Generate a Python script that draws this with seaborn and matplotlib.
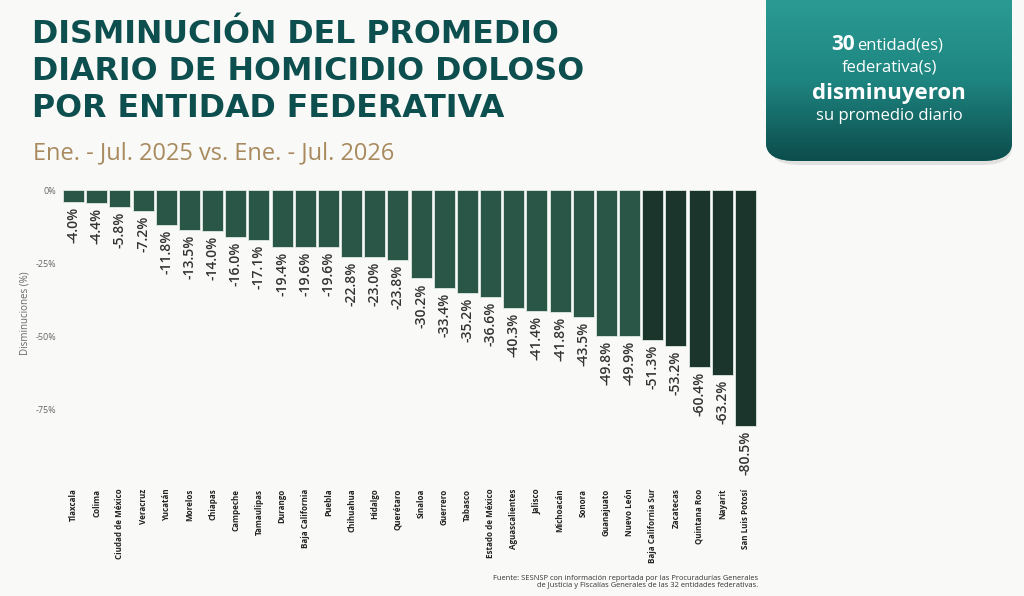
import numpy as np
import pandas as pd
import matplotlib
matplotlib.use('Agg')
import matplotlib.pyplot as plt
import seaborn as sns
from matplotlib.patches import FancyBboxPatch

estados = ['Tlaxcala', 'Colima', 'Ciudad de México', 'Veracruz', 'Yucatán', 'Morelos',
           'Chiapas', 'Campeche', 'Tamaulipas', 'Durango', 'Baja California', 'Puebla',
           'Chihuahua', 'Hidalgo', 'Querétaro', 'Sinaloa', 'Guerrero', 'Tabasco',
           'Estado de México', 'Aguascalientes', 'Jalisco', 'Michoacán', 'Sonora',
           'Guanajuato', 'Nuevo León', 'Baja California Sur', 'Zacatecas',
           'Quintana Roo', 'Nayarit', 'San Luis Potosí']
disminucion = [-4.0, -4.4, -5.8, -7.2, -11.8, -13.5, -14.0, -16.0, -17.1, -19.4, -19.6,
               -19.6, -22.8, -23.0, -23.8, -30.2, -33.4, -35.2, -36.6, -40.3, -41.4,
               -41.8, -43.5, -49.8, -49.9, -51.3, -53.2, -60.4, -63.2, -80.5]
grupo = ['normal'] * 25 + ['mayor'] * 5
yticks = [0, -25, -50, -75]
ytick_labels = ['0%', '-25%', '-50%', '-75%']

df = pd.DataFrame({'estado': estados, 'valor': disminucion, 'grupo': grupo})

sns.set_style('white')
plt.rcParams['font.family'] = ['Open Sans', 'DejaVu Sans']

bg = '#f9f9f7'
fig = plt.figure(figsize=(10.24, 5.96), dpi=100, facecolor=bg)
ax = fig.add_axes([62 / 1024, 1 - 483 / 596, 695 / 1024, 293 / 596])
ax.set_facecolor(bg)

sns.barplot(data=df, x='estado', y='valor', hue='grupo',
            palette={'normal': '#235d4a', 'mayor': '#163a2f'},
            dodge=False, legend=False, width=0.9, ax=ax,
            edgecolor='#dfe8e3', linewidth=0.6)

ax.set_ylim(-100, 0)
ax.set_xlim(-0.5, len(estados) - 0.5)
ax.set_yticks(yticks)
ax.set_yticklabels(ytick_labels, fontsize=6.5, color='#666666')
ax.tick_params(axis='y', length=0, pad=4)
ax.tick_params(axis='x', length=0, pad=4)
ax.set_xticks(range(len(estados)))
ax.set_xticklabels(estados, rotation=90, fontsize=5.8, fontweight='bold', color='#222222')
ax.set_xlabel('')
ax.set_ylabel('Disminuciones (%)', fontsize=7, color='#666666')
ax.yaxis.set_label_coords(-0.046, 0.58)
for s in ax.spines.values():
    s.set_visible(False)

for i, v in enumerate(disminucion):
    ax.text(i, v - 1.6, f'{v:.1f}%', rotation=90, ha='center', va='top',
            fontsize=10, fontweight='semibold', color='#333333')

# titulo
fig.text(32 / 1024, 1 - 19 / 596, 'DISMINUCIÓN DEL PROMEDIO\nDIARIO DE HOMICIDIO DOLOSO\nPOR ENTIDAD FEDERATIVA',
         ha='left', va='top', fontsize=22.8, fontweight='bold', family='DejaVu Sans',
         color='#0d4f4f', linespacing=1.25)
fig.text(33 / 1024, 1 - 153 / 596, 'Ene. - Jul. 2025 vs. Ene. - Jul. 2026',
         ha='left', va='center', fontsize=17, color='#a88a5e')

# recuadro con sombra
shadow = FancyBboxPatch((770 / 1024, 1 - 165 / 596), 242 / 1024, 180 / 596,
                        boxstyle='round,pad=0,rounding_size=0.03',
                        transform=fig.transFigure, facecolor='#00000018',
                        edgecolor='none', zorder=0.5)
fig.patches.append(shadow)
box = FancyBboxPatch((766 / 1024, 1 - 161 / 596), 246 / 1024, 181 / 596,
                     boxstyle='round,pad=0,rounding_size=0.03',
                     transform=fig.transFigure, facecolor='#1f7f7a',
                     edgecolor='none', zorder=1)
fig.patches.append(box)
grad = np.linspace(0, 1, 100).reshape(-1, 1)
gax = fig.add_axes([766 / 1024, 1 - 161 / 596, 246 / 1024, 161 / 596], zorder=2)
im = gax.imshow(grad, aspect='auto', cmap=matplotlib.colors.LinearSegmentedColormap.from_list(
    'g', ['#2a9b93', '#1e8580', '#0c4d4d']), extent=[0, 1, 0, 1], origin='upper')
im.set_clip_path(box)
gax.axis('off')

cx = 889 / 1024
fig.text(855 / 1024, 1 - 44 / 596, '30', ha='right', va='center', fontsize=15,
         fontweight='bold', color='white', zorder=5)
fig.text(857 / 1024, 1 - 45 / 596, 'entidad(es)', ha='left', va='center', fontsize=12,
         color='white', zorder=5)
fig.text(cx, 1 - 68 / 596, 'federativa(s)', ha='center', va='center', fontsize=12,
         color='white', zorder=5)
fig.text(cx, 1 - 93 / 596, 'disminuyeron', ha='center', va='center', fontsize=16,
         fontweight='bold', color='white', zorder=5)
fig.text(cx, 1 - 116 / 596, 'su promedio diario', ha='center', va='center', fontsize=12,
         color='white', zorder=5)

fig.text(758 / 1024, 1 - 582 / 596,
         'Fuente: SESNSP con información reportada por las Procuradurías Generales\n'
         'de Justicia y Fiscalías Generales de las 32 entidades federativas.',
         ha='right', va='center', fontsize=5.4, color='#333333', multialignment='right',
         linespacing=1.15)

fig.savefig('out.png', dpi=100, facecolor=bg)
